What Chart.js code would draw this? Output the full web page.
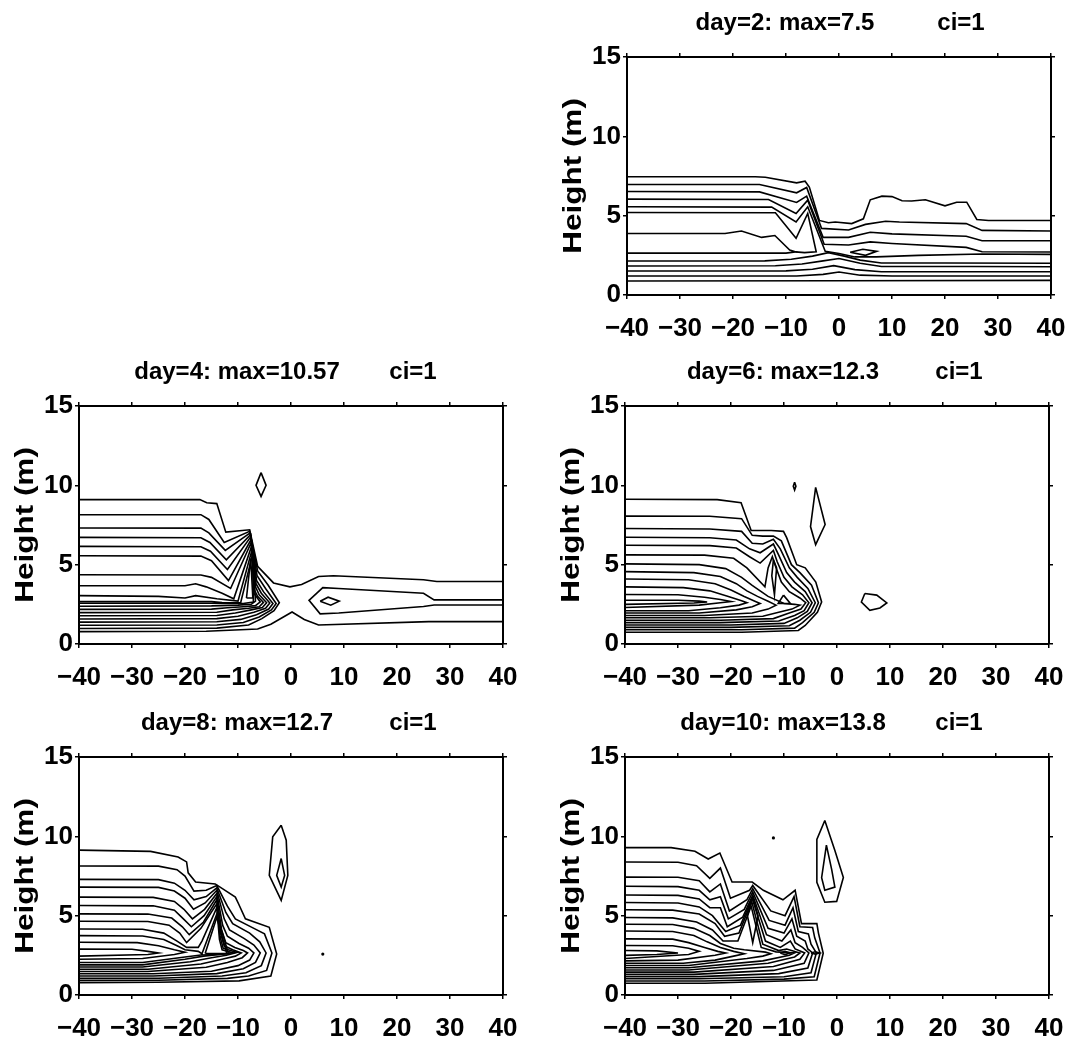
<!DOCTYPE html>
<html><head><meta charset="utf-8">
<script src="https://cdn.jsdelivr.net/npm/chart.js@4.4.0/dist/chart.umd.min.js"></script>
<style>
html,body{margin:0;padding:0;background:#fff;width:1068px;height:1044px;overflow:hidden;position:relative}
canvas{position:absolute}
</style></head><body>
<script>
// ---------- axis ticks / labels ----------
const xTickValues = [-40,-30,-20,-10,0,10,20,30,40];
const xTickLabels = ['−40','−30','−20','−10','0','10','20','30','40'];
const yTickValues = [0,5,10,15];
const yTickLabels = ['0','5','10','15'];
const dayLabels = ['2','4','6','8','10'];
const maxLabels = ['7.5','10.57','12.3','12.7','13.8'];
const ciLabel = '1';
const yAxisTitle = 'Height (m)';

// ---------- contour lines (x, height) ----------
const day2Lines = [
 [[-40,7.45],[-15.8,7.45],[-13.9,7.42],[-8,7.07],[-6.4,7.17],[-5.6,6.8],[-3.7,4.7],[-2,4.55],[-0.7,4.6],[2.4,4.5],[4.6,4.8],[5.9,6.0],[8.1,6.23],[10,6.2],[11.9,5.94],[13.7,5.92],[16.3,6.0],[20,5.62],[22.2,5.85],[24.1,5.85],[26,4.76],[28.2,4.7],[40,4.7]],
 [[-40,6.96],[-15,6.96],[-8,6.44],[-6.1,6.78],[-3.3,4.2],[1.8,4.1],[5,4.45],[8.8,4.65],[11.4,4.6],[24,4.5],[27,4.07],[40,4.03]],
 [[-40,6.52],[-15,6.5],[-8,5.83],[-6.1,6.23],[-3,3.63],[1.8,3.63],[5.9,3.95],[10,3.85],[24,3.7],[27,3.42],[40,3.42]],
 [[-40,6.04],[-13.3,6.02],[-8.1,5.14],[-5.9,5.98],[-2.8,3.2],[1.8,3.15],[5.9,3.35],[10,3.25],[24,3.0],[27,2.73],[40,2.71]],
 [[-40,5.56],[-12.7,5.54],[-8.1,4.6],[-5.9,5.56],[-2.6,2.75],[0,2.62],[3,2.4],[7,2.4],[15,2.5],[27,2.58],[40,2.56]],
 [[-40,5.2],[-12,5.18],[-8.1,3.57],[-5.9,5.14],[-4.3,2.72],[-6.5,2.67],[-8.2,2.72]],
 [[-40,3.88],[-21.5,3.88],[-18.4,4.03],[-14.6,3.63],[-12.1,3.75],[-9.3,2.83],[-8.2,2.72],[-10,2.64],[-40,2.64]],
 [[-40,2.14],[-14,2.15],[-9,2.25],[-5,2.45],[-2,2.67],[1,2.45],[4,2.2],[8,2.02],[20,2.02],[40,2.0]],
 [[-40,1.83],[-12,1.84],[-7,1.95],[-3,2.15],[0,2.3],[4,2.0],[8,1.8],[25,1.8],[40,1.78]],
 [[-40,1.51],[-10,1.52],[-5,1.62],[-1,1.85],[3,1.6],[8,1.47],[40,1.47]],
 [[-40,1.2],[-8,1.2],[-3,1.3],[0,1.45],[4,1.25],[10,1.2],[40,1.2]],
 [[-40,0.88],[0,0.9],[40,0.92]],
 [[2.1,2.7],[4.5,2.88],[7.1,2.75],[5,2.5],[2.1,2.7]]
];

const day4Lines = [
 [[-40,9.1],[-17.2,9.1],[-15.9,8.9],[-14,8.85],[-12.3,7.05],[-7.8,7.2],[-6.3,4.9],[-3.3,3.85],[-0.2,3.6],[2,3.75],[5.2,4.25],[8,4.3],[25,4.05],[27.5,3.94],[40,3.94]],
 [[-40,0.78],[-16,0.8],[-6.3,0.95],[-3.8,1.25],[0.2,2.02],[2.5,1.55],[5.2,1.2],[26,1.41],[40,1.41]],
 [[40,2.78],[27,2.78],[25,3.2],[9,3.5],[6,3.55],[3.4,2.75],[5.5,1.9],[9,1.95],[25,2.36],[27,2.46],[40,2.46]],
 [[5.5,2.7],[7,2.95],[9.1,2.7],[7.5,2.45],[5.5,2.7]],
 [[-5.65,10.8],[-4.7,10],[-5.65,9.3],[-6.6,10],[-5.65,10.8]],
 [[-40,8.15],[-17,8.15],[-15.5,7.85],[-12.6,6.4],[-7.8,7.1],[-6.3,4.6],[-4.3,3.7],[-2.2,2.6],[-3.2,2.1],[-5.5,1.6],[-8,1.2],[-14,1.0],[-40,0.98]],
 [[-40,7.31],[-17,7.3],[-15.5,7.0],[-12.4,5.9],[-7.7,7.0],[-6.4,4.3],[-4.8,3.5],[-2.8,2.55],[-3.7,2.15],[-6,1.7],[-9,1.35],[-14,1.2],[-40,1.18]],
 [[-40,6.72],[-17,6.7],[-15.3,6.4],[-12.2,5.3],[-7.6,6.9],[-6.5,4.0],[-5.2,3.3],[-3.4,2.55],[-4.2,2.2],[-6.5,1.85],[-9.5,1.55],[-14,1.4],[-40,1.38]],
 [[-40,6.15],[-17,6.13],[-15.2,5.85],[-12,4.7],[-7.6,6.75],[-6.6,3.8],[-5.6,3.2],[-4.0,2.58],[-4.8,2.25],[-7,2.0],[-10,1.75],[-14,1.6],[-40,1.58]],
 [[-40,5.56],[-17,5.54],[-15,5.25],[-11.8,4.0],[-7.5,6.6],[-6.7,3.6],[-6.0,3.1],[-4.6,2.6],[-5.4,2.3],[-7.5,2.15],[-10.5,1.95],[-14,1.8],[-40,1.78]],
 [[-40,4.36],[-17,4.35],[-15,4.2],[-11.4,3.5],[-7.5,6.4],[-6.9,3.4],[-6.3,3.0],[-5.2,2.62],[-6,2.35],[-8,2.25],[-11,2.15],[-14,2.0],[-40,1.98]],
 [[-40,3.67],[-20,3.67],[-18,3.8],[-16,3.6],[-13,3.2],[-10.8,2.85],[-7.4,6.2],[-7.0,3.2],[-5.8,2.65],[-6.7,2.42],[-9,2.35],[-12,2.28],[-15,2.2],[-40,2.18]],
 [[-40,3.05],[-25,3.0],[-20,2.9],[-18,3.05],[-14,2.85],[-10,2.7],[-7.3,6.0],[-6.7,2.7],[-7.5,2.5],[-10,2.45],[-15,2.4],[-40,2.38]],
 [[-40,2.68],[-15,2.68],[-13,2.62],[-9.5,2.6],[-7.2,5.7],[-7.1,2.65],[-9,2.55],[-15,2.57],[-40,2.57]],
 [[-8.4,2.9],[-7.6,5.4],[-7.2,2.9],[-8.4,2.9]]
];

const day6Lines = [
 [[-40,9.12],[-22.6,9.1],[-18.1,8.9],[-16.2,7.15],[-12.4,7.15],[-10.1,7.1],[-9.5,6.7],[-7.6,5.0],[-6,4.8],[-4,3.9],[-2.9,2.65],[-3.7,2.0],[-6,1.17],[-7.3,0.85],[-18,0.74],[-40,0.74]],
 [[-40,8.06],[-24,8.05],[-18,7.9],[-16,6.85],[-14,6.8],[-12,6.8],[-10.5,6.5],[-8.6,5.0],[-7,4.5],[-4.8,3.7],[-3.5,2.6],[-4.3,2.0],[-6.5,1.35],[-8,1.0],[-18,0.9],[-40,0.9]],
 [[-40,7.28],[-24,7.25],[-18,7.1],[-16,6.35],[-14,6.3],[-12,6.6],[-10.7,6.0],[-9,4.8],[-7.5,4.2],[-5.5,3.5],[-4.1,2.6],[-5,2.0],[-7,1.5],[-9,1.15],[-20,1.05],[-40,1.05]],
 [[-40,6.73],[-24,6.7],[-19,6.55],[-16.5,6.0],[-14.5,5.75],[-12,6.3],[-11,5.6],[-9.5,4.5],[-8,3.9],[-6,3.3],[-4.7,2.6],[-5.6,2.05],[-7.5,1.65],[-10,1.3],[-20,1.2],[-40,1.2]],
 [[-40,6.22],[-24,6.2],[-19,6.05],[-16.5,5.5],[-14.5,5.1],[-12,5.9],[-11.3,5.2],[-10,4.2],[-8.5,3.6],[-6.5,3.1],[-5.3,2.6],[-6.2,2.1],[-8,1.8],[-11,1.45],[-22,1.35],[-40,1.35]],
 [[-40,5.62],[-25,5.6],[-19.5,5.4],[-17,4.8],[-13.6,3.6],[-13,4.8],[-12.2,5.5],[-11.5,4.8],[-10.5,3.9],[-9,3.3],[-7,2.9],[-5.9,2.6],[-6.8,2.2],[-9,1.95],[-12,1.6],[-22,1.5],[-40,1.5]],
 [[-40,5.05],[-26,5.0],[-21,4.75],[-18,4.2],[-16,3.7],[-14.5,3.35],[-13,3.0],[-10,2.55],[-8,2.5],[-7.0,2.45],[-8.5,2.2],[-11,2.0],[-14,1.75],[-24,1.65],[-40,1.65]],
 [[-40,4.56],[-27,4.5],[-22,4.25],[-19,3.8],[-17,3.35],[-15,3.0],[-13,2.7],[-11.5,2.45],[-13,2.2],[-16,1.95],[-25,1.8],[-40,1.8]],
 [[-40,4.1],[-28,4.05],[-23,3.8],[-20,3.4],[-17.5,3.0],[-15.5,2.7],[-14.5,2.55],[-16,2.35],[-19,2.15],[-26,1.95],[-40,1.95]],
 [[-40,3.6],[-29,3.55],[-24,3.35],[-20.5,3.0],[-18,2.72],[-17,2.6],[-18.5,2.45],[-22,2.28],[-28,2.1],[-40,2.1]],
 [[-40,3.12],[-30,3.1],[-25,2.95],[-22,2.8],[-20,2.68],[-22,2.6],[-26,2.45],[-40,2.3]],
 [[-40,2.76],[-30,2.76],[-26,2.7],[-24.5,2.65],[-27,2.58],[-40,2.5]],
 [[-12,5.3],[-11.4,4.8],[-11.8,3.1],[-12.3,4.3],[-12,5.3]],
 [[-10.1,3.08],[-8.8,2.55],[-11.1,2.55],[-10.1,3.08]],
 [[-4.03,9.87],[-2.24,7.53],[-4.03,6.26],[-5.0,7.4],[-4.03,9.87]],
 [[5.25,3.18],[7.5,3.08],[9.4,2.59],[8.1,2.27],[6.2,2.12],[4.6,2.65],[5.25,3.18]],
 [[-8,10.2],[-7.75,9.95],[-8,9.7],[-8.25,9.95],[-8,10.2]]
];

const day8Lines = [
 [[-40,9.13],[-26.5,9.05],[-21.3,8.7],[-19.7,8.39],[-19.4,7.7],[-18,7.12],[-14.3,7.0],[-10.5,6.17],[-9.9,5.75],[-8.6,4.8],[-4.1,4.27],[-2.7,2.58],[-3.8,1.2],[-9.8,0.89],[-25,0.8],[-40,0.78]],
 [[-40,8.13],[-25,8.12],[-21.5,7.9],[-20,7.5],[-18.3,6.55],[-16,6.6],[-14,6.9],[-12,5.6],[-10.5,4.8],[-7,4.2],[-5,3.85],[-3.6,2.65],[-4.6,1.55],[-8,1.2],[-12,1.05],[-25,0.93],[-40,0.92]],
 [[-40,7.29],[-25,7.27],[-22,7.05],[-20,6.6],[-18.3,6.0],[-16,6.2],[-14,6.75],[-12.3,5.2],[-11,4.5],[-7.8,3.9],[-5.9,3.35],[-4.7,2.65],[-5.6,1.85],[-8.5,1.4],[-13,1.2],[-25,1.06],[-40,1.06]],
 [[-40,6.8],[-25,6.78],[-22,6.55],[-20,6.1],[-18.4,5.4],[-16.2,5.8],[-14,6.6],[-12.6,4.8],[-11.6,4.1],[-8.8,3.55],[-7,3.15],[-5.8,2.65],[-6.7,2.05],[-9,1.65],[-14,1.35],[-26,1.2],[-40,1.2]],
 [[-40,6.17],[-26,6.15],[-22,5.9],[-20.2,5.4],[-18.6,4.8],[-16.3,5.4],[-14,6.4],[-12.9,4.4],[-12,3.7],[-9.8,3.25],[-8,2.95],[-7,2.65],[-7.8,2.2],[-10,1.85],[-15,1.5],[-26,1.34],[-40,1.34]],
 [[-40,5.64],[-26,5.62],[-22,5.35],[-20.3,4.8],[-18.8,4.3],[-16.4,5.0],[-14,6.2],[-13.1,4.1],[-12.3,3.3],[-10.6,3.0],[-9,2.8],[-8.2,2.65],[-9.2,2.35],[-12,2.05],[-16,1.75],[-27,1.48],[-40,1.48]],
 [[-40,5.11],[-27,5.1],[-22.5,4.85],[-20.5,4.3],[-19.2,3.8],[-16.5,4.6],[-14,6.0],[-13.3,3.9],[-12.6,3.1],[-11,2.85],[-9.4,2.65],[-10.5,2.45],[-13,2.25],[-17,1.95],[-27,1.62],[-40,1.62]],
 [[-40,4.65],[-27,4.63],[-23,4.4],[-21,3.9],[-19.7,3.3],[-17,4.2],[-14,5.75],[-13.4,3.7],[-12.8,2.95],[-10.2,2.68],[-12.2,2.5],[-15,2.35],[-19,2.1],[-28,1.76],[-40,1.76]],
 [[-40,4.16],[-28,4.14],[-24,3.9],[-21.5,3.4],[-19.7,3.0],[-17.5,3.0],[-16.8,3.4],[-14,5.5],[-13.5,3.5],[-13,2.85],[-11.0,2.66],[-13.5,2.55],[-16.5,2.45],[-20,2.25],[-28,1.9],[-40,1.9]],
 [[-40,3.74],[-28,3.72],[-24,3.5],[-21.5,3.1],[-20,2.85],[-17.5,2.75],[-16.8,2.6],[-14,5.1],[-11.8,2.6],[-14,2.55],[-17,2.52],[-20,2.4],[-28,2.05],[-40,2.05]],
 [[-16.2,2.62],[-14,4.9],[-12.1,2.62],[-16.2,2.62]],
 [[-40,3.32],[-29,3.3],[-25,3.1],[-22,2.85],[-20,2.7],[-22,2.55],[-28,2.3],[-40,2.25]],
 [[-40,2.89],[-30,2.88],[-27,2.75],[-25,2.65],[-27,2.55],[-40,2.45]],
 [[-1.85,10.7],[-0.9,9.76],[-0.6,7.54],[-1.85,5.96],[-4.1,7.54],[-3.45,9.97],[-1.85,10.7]],
 [[-1.85,8.6],[-1.2,7.54],[-1.85,6.8],[-2.7,7.54],[-1.85,8.6]]
];
const day8Dots = [[6,2.58]];

const day10Lines = [
 [[-40,9.29],[-31.3,9.29],[-26.8,9.06],[-24.3,8.57],[-22.1,8.95],[-19.8,7.12],[-16,7.12],[-13.9,6.6],[-10.2,6.0],[-7.9,6.6],[-6.7,4.5],[-3.8,4.5],[-3.5,3.9],[-2.6,2.63],[-3.8,0.95],[-24.9,0.74],[-40,0.74]],
 [[-40,8.38],[-30,8.37],[-26.5,8.15],[-24,7.35],[-22,8.0],[-20.1,6.1],[-16.5,6.6],[-15.9,6.9],[-12.5,5.3],[-9.8,5.0],[-8.1,6.2],[-7.0,4.3],[-4.6,4.25],[-4.2,3.6],[-3.2,2.65],[-4.3,1.15],[-10,1.0],[-25,0.88],[-40,0.88]],
 [[-40,7.43],[-30,7.42],[-26,7.2],[-24,6.5],[-22,7.0],[-20.3,5.3],[-17,6.0],[-15.9,6.7],[-12.8,4.7],[-9.8,4.4],[-8.3,5.5],[-7.3,4.0],[-5.4,3.85],[-4.9,3.2],[-3.9,2.65],[-4.9,1.4],[-10,1.15],[-26,1.02],[-40,1.02]],
 [[-40,6.85],[-30,6.83],[-26,6.6],[-24,6.0],[-22,6.2],[-20.5,4.8],[-17.5,5.4],[-15.9,6.5],[-13,4.2],[-10,3.9],[-8.5,4.8],[-7.6,3.7],[-6,3.4],[-5.5,2.9],[-4.6,2.65],[-5.5,1.7],[-11,1.35],[-26,1.16],[-40,1.16]],
 [[-40,6.3],[-30,6.28],[-26,6.05],[-24,5.5],[-22,5.5],[-20.7,4.3],[-17.8,4.9],[-15.9,6.3],[-13.3,3.8],[-10.4,3.4],[-8.7,4.1],[-7.9,3.3],[-6.5,3.0],[-5.3,2.65],[-6.2,2.0],[-12,1.55],[-27,1.3],[-40,1.3]],
 [[-40,5.83],[-30,5.8],[-26,5.55],[-23.5,5.0],[-21,4.0],[-18.2,4.4],[-16,6.1],[-13.5,3.4],[-10.7,3.0],[-8.8,3.4],[-7.9,2.9],[-6.1,2.65],[-7,2.25],[-12,1.8],[-27,1.44],[-40,1.44]],
 [[-40,5.37],[-31,5.35],[-26,5.1],[-23,4.5],[-21.2,3.7],[-18.5,3.9],[-16.1,5.9],[-14,3.2],[-11,2.8],[-9.5,2.9],[-7,2.65],[-8,2.4],[-13,2.0],[-28,1.58],[-40,1.58]],
 [[-40,4.88],[-31,4.86],[-26.5,4.6],[-23.5,4.1],[-21.5,3.4],[-18.7,3.4],[-16.2,5.6],[-14.3,3.0],[-11.5,2.72],[-8,2.65],[-9,2.5],[-14,2.15],[-28,1.72],[-40,1.72]],
 [[-40,4.46],[-31,4.44],[-27,4.2],[-24,3.75],[-22,3.25],[-19.5,2.95],[-17.5,2.85],[-13.5,2.7],[-12.5,2.6],[-14,2.45],[-17,2.3],[-28,1.86],[-40,1.86]],
 [[-40,4.03],[-31,4.0],[-27,3.75],[-24.5,3.35],[-22,3.0],[-19.5,2.75],[-17.5,2.6],[-19.5,2.45],[-23,2.2],[-29,2.0],[-40,2.0]],
 [[-40,3.54],[-31,3.52],[-28,3.3],[-25,3.0],[-22.5,2.75],[-21,2.65],[-23,2.5],[-30,2.2],[-40,2.15]],
 [[-40,3.12],[-31,3.1],[-28,2.95],[-26,2.75],[-28,2.55],[-40,2.3]],
 [[-40,2.8],[-34,2.78],[-30,2.65],[-34,2.55],[-40,2.5]],
 [[-15.9,6.2],[-14.9,5.0],[-15.9,3.3],[-16.9,5.0],[-15.9,6.2]],
 [[-10.7,2.65],[-9.8,2.75],[-8.9,2.65],[-9.8,2.55],[-10.7,2.65]],
 [[-4.9,2.65],[-4.1,2.72],[-3.3,2.65],[-4.1,2.58],[-4.9,2.65]],
 [[-2.3,11.0],[-0.4,9.1],[1.2,7.4],[-0.06,5.9],[-2.3,5.85],[-3.8,7.1],[-3.8,9.8],[-2.3,11.0]],
 [[-2.0,9.45],[-1.0,7.9],[-0.4,6.8],[-2.3,6.6],[-2.9,7.4],[-2.0,9.45]]
];
const day10Dots = [[-12,9.9]];

// ---------- layout (pixels) ----------
const PLOT_W = 424, PLOT_H = 238, AXIS_GAP_L = 79, PAD_TOP = 46, CANVAS_W = 517, CANVAS_H = 340;
const panelPos = [{l:627,t:57},{l:79,t:406},{l:625,t:406},{l:79,t:757},{l:625,t:757}];
const panelLines = [day2Lines, day4Lines, day6Lines, day8Lines, day10Lines];
const panelDots = [[], [], [], day8Dots, day10Dots];

const FONT_FAMILY = '"Liberation Sans", Arial, Helvetica, sans-serif';

const textPlugin = {
  id: 'panelText',
  afterDraw(chart, args, opts) {
    const ctx = chart.ctx, a = chart.chartArea;
    ctx.save();
    ctx.fillStyle = '#000';
    ctx.textAlign = 'center';
    ctx.textBaseline = 'middle';
    ctx.font = 'bold 24px ' + FONT_FAMILY;
    ctx.fillText(opts.title, a.left + 158, a.top - 34);
    ctx.fillText(opts.ci, a.left + 334, a.top - 34);
    ctx.translate(a.left - 54, (a.top + a.bottom) / 2);
    ctx.rotate(-Math.PI / 2);
    ctx.scale(1.26, 1);
    ctx.font = 'bold 25px ' + FONT_FAMILY;
    ctx.fillText(opts.yTitle, 0, 1);
    ctx.restore();
  }
};

function tickGrid() {
  return { display: true, drawOnChartArea: false, drawTicks: true, tickLength: 4, color: '#000', lineWidth: 1.5 };
}
const border = { display: true, color: '#000', width: 2 };
function noPad(s) { s.paddingLeft = 0; s.paddingRight = 0; s.paddingTop = 0; s.paddingBottom = 0; }

panelPos.forEach((p, i) => {
  const cv = document.createElement('canvas');
  cv.width = CANVAS_W; cv.height = CANVAS_H;
  cv.style.left = (p.l - AXIS_GAP_L) + 'px';
  cv.style.top = (p.t - PAD_TOP - 4) + 'px';
  cv.style.width = CANVAS_W + 'px'; cv.style.height = CANVAS_H + 'px';
  document.body.appendChild(cv);

  const datasets = panelLines[i].map(line => ({
    data: line.map(([x, y]) => ({x, y})),
    showLine: true, borderColor: '#000', borderWidth: 1.6, pointRadius: 0,
    fill: false, tension: 0
  }));
  if (panelDots[i].length) {
    datasets.push({ data: panelDots[i].map(([x, y]) => ({x, y})), showLine: false,
      pointRadius: 1.6, backgroundColor: '#000', borderWidth: 0 });
  }

  const xTicksFix = s => { s.ticks = xTickValues.map(v => ({value: v})); };
  const yTicksFix = s => { s.ticks = yTickValues.map(v => ({value: v})); };
  const tickFont = { family: FONT_FAMILY, size: 26, weight: 'bold', lineHeight: 1.2 };

  new Chart(cv, {
    type: 'scatter',
    data: { datasets },
    plugins: [textPlugin],
    options: {
      responsive: false, animation: false, devicePixelRatio: 1,
      layout: { padding: { top: PAD_TOP, left: 0, right: CANVAS_W - AXIS_GAP_L - PLOT_W - 4, bottom: CANVAS_H - PAD_TOP - 4 - PLOT_H - 46 } },
      plugins: {
        legend: { display: false }, tooltip: { enabled: false },
        panelText: { title: 'day=' + dayLabels[i] + ': max=' + maxLabels[i], ci: 'ci=' + ciLabel, yTitle: yAxisTitle }
      },
      scales: {
        x: { type: 'linear', position: 'bottom', min: -40, max: 40, afterBuildTicks: xTicksFix,
             ticks: { autoSkip: false, maxRotation: 0, color: '#000', font: tickFont, padding: 14,
                      callback: v => xTickLabels[xTickValues.indexOf(v)] },
             grid: tickGrid(), border, afterFit: s => { s.height = 46; noPad(s); } },
        xTop: { type: 'linear', position: 'top', min: -40, max: 40, afterBuildTicks: xTicksFix,
             ticks: { display: false }, grid: tickGrid(), border, afterFit: s => { s.height = 4; noPad(s); } },
        y: { type: 'linear', position: 'left', min: 0, max: 15, afterBuildTicks: yTicksFix,
             ticks: { color: '#000', font: tickFont, padding: 2,
                      callback: v => yTickLabels[yTickValues.indexOf(v)] },
             grid: tickGrid(), border, afterFit: s => { s.width = AXIS_GAP_L; noPad(s); } },
        yRight: { type: 'linear', position: 'right', min: 0, max: 15, afterBuildTicks: yTicksFix,
             ticks: { display: false }, grid: tickGrid(), border, afterFit: s => { s.width = 4; noPad(s); } }
      }
    }
  });
});
</script>
</body></html>
